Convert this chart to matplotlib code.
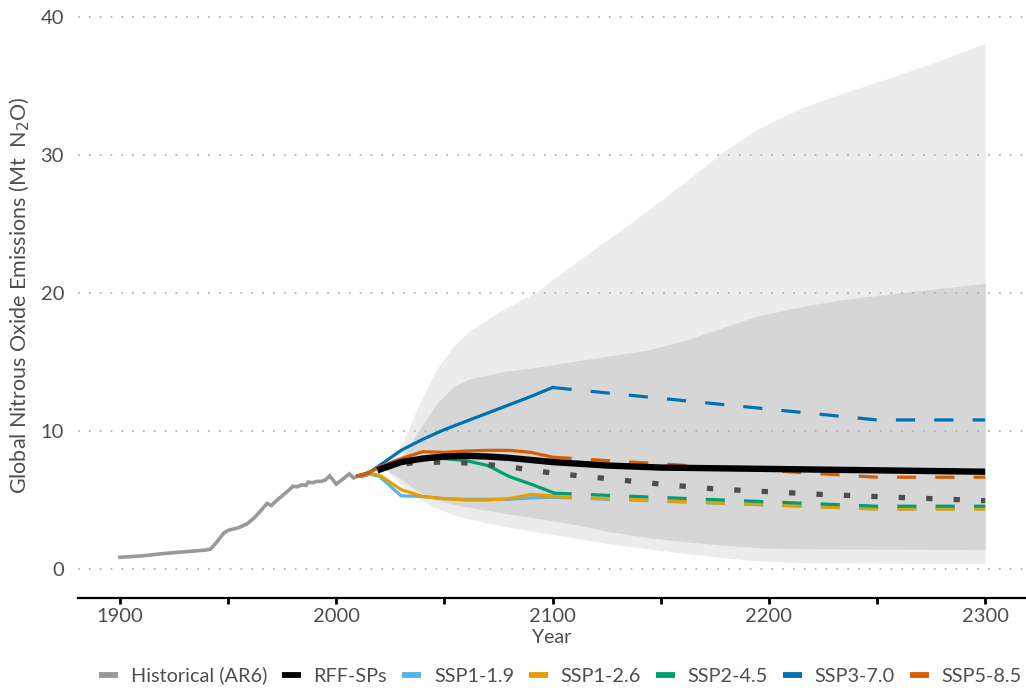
"""plot.py makes the nitrous oxide emissions figure (RFF-SPs vs SSPs)."""
import matplotlib as mpl
mpl.use('Agg')
import matplotlib.pyplot as plt
from matplotlib.lines import Line2D

# Historical (AR6)
hist_years = [1900, 1910, 1920, 1930, 1940, 1942, 1945, 1948, 1950, 1955,
              1959, 1962, 1965, 1968, 1970, 1972, 1975, 1978, 1980, 1982,
              1984, 1986, 1987, 1989, 1991, 1993, 1995, 1997, 2000, 2003,
              2006, 2008, 2010, 2012, 2014]
hist_vals = [0.85, 0.95, 1.12, 1.25, 1.38, 1.45, 2.0, 2.6, 2.8, 3.0,
             3.3, 3.7, 4.2, 4.75, 4.6, 4.9, 5.3, 5.7, 6.0, 5.95,
             6.1, 6.05, 6.3, 6.25, 6.35, 6.35, 6.45, 6.75, 6.15, 6.5,
             6.9, 6.6, 6.75, 6.7, 6.8]

# RFF-SP percentile bands
band_years = [2022, 2026, 2031, 2038, 2046, 2054, 2062, 2077, 2092, 2108,
              2125, 2145, 2160, 2177, 2194, 2215, 2233, 2260, 2280, 2300]
outer_lo = [7.3, 6.7, 6.0, 5.1, 4.4, 3.95, 3.6, 3.1, 2.7, 2.3,
            1.85, 1.45, 1.15, 0.85, 0.6, 0.47, 0.43, 0.42, 0.41, 0.4]
outer_hi = [7.3, 7.9, 9.3, 11.8, 14.4, 16.1, 17.3, 18.8, 20.0, 21.9,
            23.8, 26.1, 27.9, 30.0, 31.8, 33.4, 34.4, 35.8, 36.9, 38.1]
inner_lo = [7.3, 6.9, 6.4, 5.6, 5.0, 4.7, 4.45, 4.05, 3.7, 3.3,
            2.75, 2.25, 2.0, 1.75, 1.55, 1.47, 1.45, 1.43, 1.42, 1.4]
inner_hi = [7.3, 7.6, 8.3, 10.0, 11.9, 13.2, 13.8, 14.3, 14.6, 15.0,
            15.4, 15.9, 16.5, 17.4, 18.3, 19.0, 19.5, 20.0, 20.35, 20.7]

# RFF-SP median and the dotted reference line
rff_years = [2019, 2030, 2040, 2050, 2060, 2070, 2080, 2090, 2100, 2125,
             2150, 2175, 2200, 2250, 2300]
rff_median = [7.15, 7.75, 8.0, 8.15, 8.2, 8.15, 8.05, 7.9, 7.75, 7.5,
              7.35, 7.3, 7.25, 7.15, 7.05]
dot_years = [2020, 2035, 2050, 2065, 2080, 2100, 2125, 2150, 2175, 2200,
             2225, 2250, 2275, 2300]
dot_vals = [7.25, 7.7, 7.75, 7.65, 7.4, 6.95, 6.55, 6.15, 5.8, 5.6,
            5.4, 5.25, 5.1, 4.95]

# SSPs to 2100 and extensions past 2100
ssp_years = [2010, 2015, 2020, 2030, 2040, 2050, 2060, 2070, 2080, 2090, 2100]
ext_years = [2100, 2250, 2300]
ssp_names = ['SSP1-1.9', 'SSP1-2.6', 'SSP2-4.5', 'SSP3-7.0', 'SSP5-8.5']
ssp119 = [6.75, 6.9, 6.7, 5.3, 5.25, 5.1, 5.05, 5.05, 5.05, 5.15, 5.2]
ssp126 = [6.75, 6.9, 6.8, 5.75, 5.25, 5.1, 5.0, 5.0, 5.1, 5.4, 5.3]
ssp245 = [6.75, 7.0, 7.4, 7.9, 8.0, 8.0, 7.85, 7.5, 6.7, 6.15, 5.55]
ssp370 = [6.75, 6.95, 7.5, 8.6, 9.4, 10.1, 10.7, 11.3, 11.9, 12.5, 13.15]
ssp585 = [6.75, 6.95, 7.4, 8.0, 8.5, 8.45, 8.55, 8.6, 8.6, 8.45, 8.1]
ext119 = [5.2, 4.35, 4.35]
ext126 = [5.25, 4.35, 4.35]
ext245 = [5.5, 4.55, 4.55]
ext370 = [13.15, 10.8, 10.8]
ext585 = [8.1, 6.65, 6.65]

ssp_colors = ['#56B4E9', '#E69F00', '#009E73', '#0072B2', '#D55E00']
text_color = '#4d4d4d'


def main():
    mpl.rcParams.update({'font.family': ['Lato', 'DejaVu Sans'],
                         'text.color': text_color,
                         'axes.labelcolor': text_color,
                         'xtick.color': 'black',
                         'ytick.color': text_color,
                         'xtick.labelcolor': text_color})

    fig = plt.figure(figsize=(10.26, 6.88), dpi=100)
    ax = fig.add_axes([0.076, 0.1308, 0.923, 0.8547])

    ax.fill_between(band_years, outer_lo, outer_hi, color='#ececec', lw=0)
    ax.fill_between(band_years, inner_lo, inner_hi, color='#d6d6d6', lw=0)

    for y in range(0, 41, 10):
        ax.axhline(y, color='#b3b3b3', lw=1.3, ls=(0, (1, 5)), zorder=1)

    ax.plot(hist_years, hist_vals, color='#999999', lw=2.6,
            solid_joinstyle='miter')

    ssps = [ssp119, ssp126, ssp245, ssp370, ssp585]
    exts = [ext119, ext126, ext245, ext370, ext585]
    for vals, ext, c in zip(ssps, exts, ssp_colors):
        ax.plot(ssp_years, vals, color=c, lw=2.3)
        ax.plot(ext_years, ext, color=c, lw=2.3, ls=(0, (6, 6)))

    ax.plot(dot_years, dot_vals, color='#4d4d4d', lw=3.8,
            ls=(0, (1.2, 4.0)), dash_capstyle='butt')
    ax.plot(rff_years, rff_median, color='black', lw=4.6,
            solid_capstyle='butt')

    ax.set_xlim(1880.6, 2318.4)
    ax.set_ylim(-2.1, 40.5)
    ax.set_xticks(range(1900, 2301, 100))
    ax.set_xticks(range(1950, 2300, 100), minor=True)
    ax.set_yticks(range(0, 41, 10))
    ax.tick_params(axis='x', which='both', direction='out', length=4,
                   width=2, labelsize=14.5, pad=3)
    ax.tick_params(axis='y', length=0, labelsize=14.5, pad=10)
    for s in ['left', 'right', 'top']:
        ax.spines[s].set_visible(False)
    ax.spines['bottom'].set_linewidth(1.6)

    ax.set_xlabel('Year', fontsize=14, labelpad=3)
    ax.set_ylabel('Global Nitrous Oxide Emissions (Mt  N$_2$O)',
                  fontsize=15.5)
    ax.yaxis.set_label_coords(-0.049, 0.515)

    labels = ['Historical (AR6)', 'RFF-SPs'] + ssp_names
    colors = ['#999999', 'black'] + ssp_colors
    handles = [Line2D([], [], color=c, lw=4.2, solid_capstyle='butt')
               for c in colors]
    fig.legend(handles, labels, loc='lower center', ncol=7,
               bbox_to_anchor=(0.546, -0.021), frameon=False,
               fontsize=14.3, handlelength=0.95, handletextpad=0.65,
               columnspacing=0.75)

    fig.savefig('out.png', dpi=100)
    return 0


if __name__ == "__main__":
    main()
